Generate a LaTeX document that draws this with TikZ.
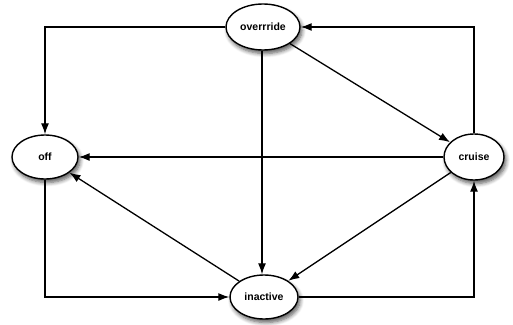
\documentclass[tikz,border=0pt]{standalone}
\usepackage{fontspec}
\setmainfont{Liberation Sans}
\usetikzlibrary{shapes.geometric,arrows.meta,shadows.blur}
\begin{document}
\begin{tikzpicture}[x=1pt,y=-1pt,
  state/.style={ellipse, draw=black, line width=1.4pt, fill=white, inner sep=0pt,
    font=\fontsize{10.5}{12}\selectfont\bfseries,
    blur shadow={shadow xshift=2pt, shadow yshift=-3.5pt, shadow blur steps=6, shadow opacity=65, shadow blur radius=4pt}},
  conn/.style={line width=1.3pt, -{Latex[length=11pt,width=8pt]}}]
\useasboundingbox (0,0) rectangle (513,324);
\node[state, minimum width=74pt, minimum height=46pt] (ov) at (263,27) {overrride};
\node[state, minimum width=66pt, minimum height=44pt] (off) at (45,157) {off};
\node[state, minimum width=60pt, minimum height=46pt] (cr) at (474,157) {cruise};
\node[state, minimum width=68pt, minimum height=44pt] (in) at (264,297) {inactive};
\draw[conn] (ov.west) -| (off.north);
\draw[conn] (cr.north) |- (ov.east);
\draw[conn] (ov) -- (cr);
\draw[conn] (ov.south -| in.north) ++(-2pt,0) -- ([xshift=-2pt]in.north);
\draw[conn] (cr.west) -- (off.east);
\draw[conn] (in) -- (off);
\draw[conn] (cr) -- (in);
\draw[conn] (off.south) |- (in.west);
\draw[conn] (in.east) -| (cr.south);
\end{tikzpicture}
\end{document}
